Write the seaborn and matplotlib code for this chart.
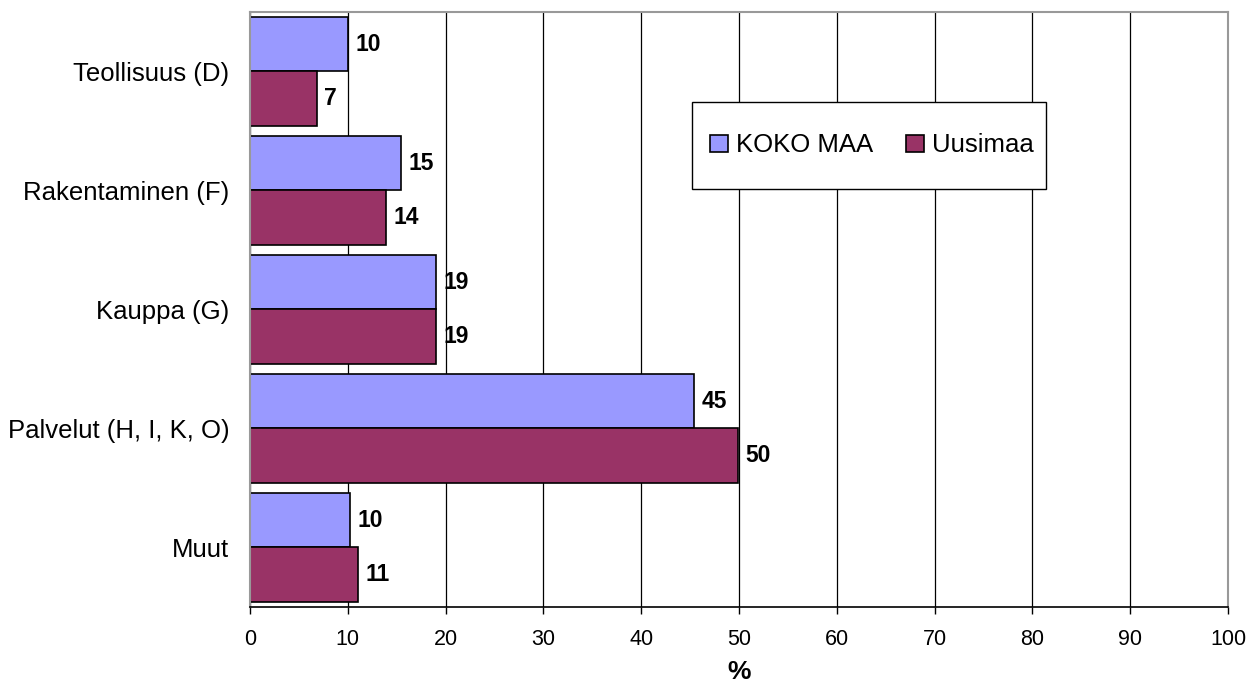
import matplotlib
matplotlib.use("Agg")
import matplotlib.pyplot as plt
from matplotlib.patches import Rectangle
import seaborn as sns
import pandas as pd

CATEGORIES = ["Teollisuus (D)", "Rakentaminen (F)", "Kauppa (G)",
              "Palvelut (H, I, K, O)", "Muut"]
KOKO_MAA = [10.0, 15.4, 19.0, 45.4, 10.2]
UUSIMAA = [6.8, 13.9, 19.0, 49.9, 11.0]
SERIES = ["KOKO MAA", "Uusimaa"]
COLORS = ["#9999FF", "#993366"]
XTICKS = list(range(0, 101, 10))

df = pd.DataFrame({
    "ala": CATEGORIES * 2,
    "arvo": KOKO_MAA + UUSIMAA,
    "sarja": [SERIES[0]] * len(CATEGORIES) + [SERIES[1]] * len(CATEGORIES),
})

sns.set_style("white")
plt.rcParams["font.family"] = ["Liberation Sans", "DejaVu Sans"]
for key in ["text.color", "axes.labelcolor", "xtick.color", "ytick.color"]:
    plt.rcParams[key] = "black"

fig = plt.figure(figsize=(12.59, 6.84), dpi=100)
ax = fig.add_axes([0.1986, 0.1126, 0.7768, 0.8699])

sns.barplot(data=df, y="ala", x="arvo", hue="sarja", orient="h",
            palette=COLORS, width=0.91, edgecolor="black", linewidth=1.2,
            saturation=1, ax=ax)

# value labels
for cont in ax.containers:
    ax.bar_label(cont, fmt="%.0f", padding=5.5, fontsize=16.5,
                 fontweight="bold", color="black")

ax.set_xlim(0, 100)
ax.set_xticks(XTICKS)
ax.set_xticklabels([str(t) for t in XTICKS], fontsize=15.5)
ax.tick_params(axis="x", which="major", direction="out", length=5,
               width=1, color="black", pad=11, bottom=True)
ax.tick_params(axis="y", length=0, pad=15, labelsize=18.5)

ax.set_axisbelow(True)
ax.xaxis.grid(True, color="black", linewidth=0.9)
ax.yaxis.grid(False)

for side in ["top", "right", "left"]:
    ax.spines[side].set_color("#999999")
    ax.spines[side].set_linewidth(1.5)
ax.spines["bottom"].set_color("black")
ax.spines["bottom"].set_linewidth(1.2)

ax.set_ylabel("")
ax.set_xlabel("%", fontsize=19, fontweight="bold", labelpad=7)

# legend box like the Excel original
ax.add_patch(Rectangle((0.452, 0.703), 0.362, 0.146, transform=ax.transAxes,
                       facecolor="white", edgecolor="black", linewidth=1,
                       zorder=4))
leg = ax.legend(loc="center", bbox_to_anchor=(0.636, 0.7756), ncol=2,
                fontsize=18.5, frameon=False,
                handlelength=0.7, handleheight=0.65, handletextpad=0.3,
                columnspacing=1.3, title=None)
leg.set_zorder(5)
for h in leg.legend_handles:
    h.set_edgecolor("black")
    h.set_linewidth(1.2)

fig.savefig("out.png", dpi=100)
